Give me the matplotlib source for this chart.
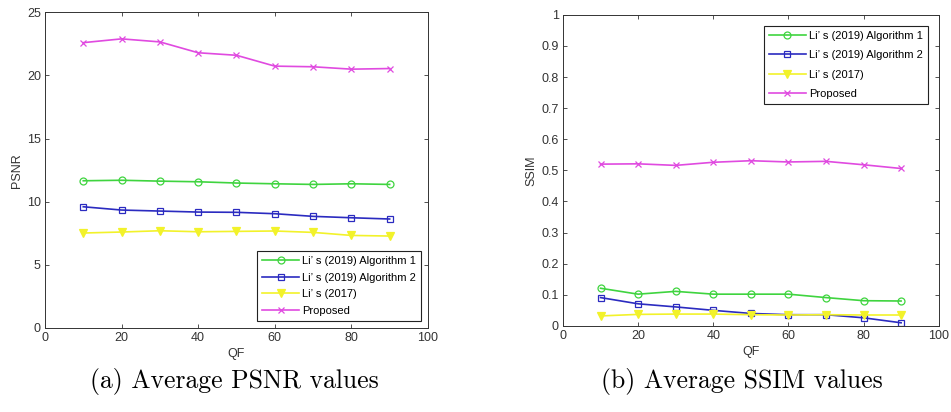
import matplotlib
matplotlib.use("Agg")
import matplotlib.pyplot as plt

qf = [10, 20, 30, 40, 50, 60, 70, 80, 90]
series_names = ["Li’ s (2019) Algorithm 1", "Li’ s (2019) Algorithm 2", "Li’ s (2017)", "Proposed"]

psnr_alg1 = [11.66, 11.70, 11.63, 11.58, 11.48, 11.42, 11.37, 11.42, 11.37]
psnr_alg2 = [9.60, 9.34, 9.26, 9.18, 9.16, 9.05, 8.84, 8.73, 8.63]
psnr_2017 = [7.52, 7.60, 7.70, 7.62, 7.65, 7.68, 7.57, 7.33, 7.28]
psnr_prop = [22.60, 22.90, 22.66, 21.80, 21.60, 20.74, 20.69, 20.50, 20.55]

ssim_alg1 = [0.121, 0.102, 0.111, 0.102, 0.102, 0.102, 0.091, 0.081, 0.080]
ssim_alg2 = [0.091, 0.071, 0.061, 0.050, 0.040, 0.036, 0.036, 0.026, 0.010]
ssim_2017 = [0.032, 0.037, 0.038, 0.038, 0.036, 0.035, 0.036, 0.035, 0.035]
ssim_prop = [0.520, 0.521, 0.516, 0.526, 0.531, 0.527, 0.529, 0.518, 0.506]

colors = ["#3fd43f", "#2b2bc0", "#f2f22a", "#e04ae0"]
markers = ["o", "s", "v", "x"]
mfill = ["none", "none", "#f2f22a", "none"]

captions = ["(a) Average PSNR values", "(b) Average SSIM values"]

fig = plt.figure(figsize=(9.51, 4.12), dpi=100)
axL = fig.add_axes([0.0473, 0.204, 0.4027, 0.766])
axR = fig.add_axes([0.592, 0.209, 0.395, 0.755])

grey = "#333333"
fam = ["Liberation Sans", "DejaVu Sans"]

def style(ax, ylim, yticks, ylabel):
    ax.set_xlim(0, 100)
    ax.set_ylim(*ylim)
    ax.set_xticks([0, 20, 40, 60, 80, 100])
    ax.set_yticks(yticks)
    ax.tick_params(direction="in", top=True, right=True, labelsize=9,
                   colors=grey, length=3, width=0.6, pad=3)
    for s in ax.spines.values():
        s.set_color(grey)
        s.set_linewidth(0.7)
    ax.set_xlabel("QF", fontsize=9, color=grey, family=fam, labelpad=3)
    ax.set_ylabel(ylabel, fontsize=9, color=grey, family=fam, labelpad=3)

dataL = [psnr_alg1, psnr_alg2, psnr_2017, psnr_prop]
dataR = [ssim_alg1, ssim_alg2, ssim_2017, ssim_prop]

for ax, data in [(axL, dataL), (axR, dataR)]:
    for vals, c, m, mf, name in zip(data, colors, markers, mfill, series_names):
        ax.plot(qf, vals, color=c, marker=m, markerfacecolor=mf, markeredgecolor=c,
                markersize=5 if m != "v" else 5.5, linewidth=1.2, label=name,
                markeredgewidth=0.9)

style(axL, (0, 25), [0, 5, 10, 15, 20, 25], "PSNR")
style(axR, (0, 1), [0, 0.1, 0.2, 0.3, 0.4, 0.5, 0.6, 0.7, 0.8, 0.9, 1], "SSIM")
axR.set_yticklabels(["0", "0.1", "0.2", "0.3", "0.4", "0.5", "0.6", "0.7", "0.8", "0.9", "1"])
for ax in (axL, axR):
    for lab in ax.get_xticklabels() + ax.get_yticklabels():
        lab.set_family(fam)

def legprops(spacing):
    return dict(fancybox=False, edgecolor="#222222", framealpha=1,
                handlelength=3.3, handletextpad=0.3, borderpad=0.45,
                labelspacing=spacing, borderaxespad=0,
                prop={"family": fam, "size": 8})

lg1 = axL.legend(loc="lower right", bbox_to_anchor=(0.982, 0.022), **legprops(0.6))
lg2 = axR.legend(loc="upper right", bbox_to_anchor=(0.971, 0.965), **legprops(0.85))
for lg in (lg1, lg2):
    lg.get_frame().set_linewidth(0.8)

fig.text(0.246, 0.075, captions[0], ha="center", va="center", fontsize=18.5, family="cmr10")
fig.text(0.7805, 0.075, captions[1], ha="center", va="center", fontsize=18.5, family="cmr10")

fig.savefig("out.png", dpi=100)
